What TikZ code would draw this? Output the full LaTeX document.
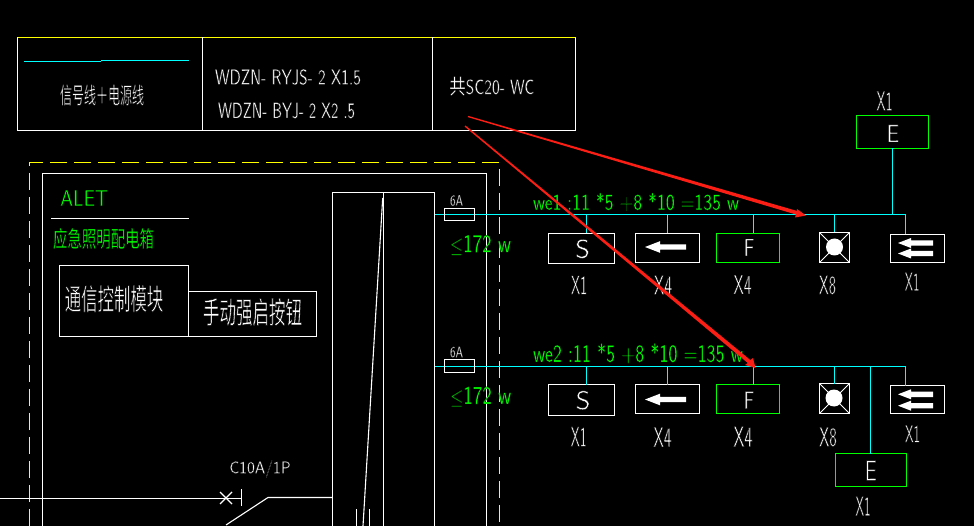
\documentclass[tikz,border=0pt]{standalone}
\usepackage{graphicx}
\usepackage{fontspec}
\usetikzlibrary{calc}
\newfontfamily\cjk{Noto Sans CJK SC}
\definecolor{cadgreen}{RGB}{0,255,0}
\definecolor{cadcyan}{RGB}{0,255,255}
\definecolor{cadyellow}{RGB}{255,255,0}
\definecolor{cadred}{RGB}{250,30,20}
\tikzset{
  wl/.style={draw=white,line width=1.1pt},
  yl/.style={draw=cadyellow,line width=1.1pt},
  cl/.style={draw=cadcyan,line width=1.1pt},
  ydash/.style={yl,dash pattern=on 17pt off 7pt},
  boxw/.style={draw=white,line width=1.1pt,inner sep=0pt,outer sep=0pt},
  boxg/.style={draw=cadgreen,line width=1.1pt,inner sep=0pt,outer sep=0pt},
  cadt/.style={inner sep=0pt,outer sep=0pt},
  redarrow/.style={fill=cadred,draw=none},
  whitefill/.style={fill=white,draw=none}
}
% thin the glyphs by stroking them in the background colour
\newcommand\thinon[1]{\special{pdf: code 2 Tr #1 w 0 0 0 RG}}
\newcommand\thinoff{\special{pdf: code 0 Tr}}
\newcommand\latw{0.6}
\newcommand\zhw{0.5}
% name, x, y, w, h, colour, text
\newcommand\cadlat[7]{\node[cadt,text=#6] (#1) at (#2,#3) {\resizebox*{#4pt}{#5pt}{\sffamily\fontsize{30}{30}\selectfont\thinon{\latw}#7\thinoff}};}
\newcommand\cadzh[7]{\node[cadt,text=#6] (#1) at (#2,#3) {\resizebox*{#4pt}{#5pt}{\cjk\fontsize{30}{30}\selectfont\thinon{\zhw}#7\thinoff}};}
% left arrow: tip x, end x, y, head half, shaft half, head len
\newcommand\leftarr[6]{\fill[whitefill] (#1,#3) -- (#1+#6,#3-#4) -- (#1+#6,#3-#5) -- (#2,#3-#5) -- (#2,#3+#5) -- (#1+#6,#3+#5) -- (#1+#6,#3+#4) -- cycle;}
\begin{document}
\begin{tikzpicture}[x=1pt,y=-1pt]
\useasboundingbox (0,0) rectangle (974,526);
\fill[black] (0,0) rectangle (974,526);

% legend table
\draw[yl] (17.5,37.5) -- (575.5,37.5);
\draw[wl] (17.5,37.5) |- (575.5,130.5) -- (575.5,37.5);
\draw[wl] (202.5,37.5) -- (202.5,130.5);
\draw[wl] (432.5,37.5) -- (432.5,130.5);
\draw[cl] (24,61.5) -- (101,61.5);
\draw[cl] (101,60.5) -- (189,60.5);
\cadzh{t1}{102}{95}{84}{21}{white}{信号线＋电源线}
\renewcommand\latw{0.3}
\cadlat{t2}{288}{77}{146}{15.7}{white}{WDZN- RYJS- 2 X1.5}
\cadlat{t3}{286.5}{110.5}{137}{15.7}{white}{WDZN- BYJ- 2 X2 .5}
\node[cadt,text=white] (t4) at (491.7,86.2) {\resizebox*{85pt}{19pt}{\fontsize{30}{30}\selectfont\thinon{0.35}{\cjk 共}\sffamily SC20- WC\thinoff}};

% panel frames
\draw[ydash] (29.5,526) -- (29.5,162.5) -- (499.5,162.5) -- (499.5,526);
\draw[wl] (42.5,526) -- (42.5,173.5) -- (486.5,173.5) -- (486.5,526);
\cadlat{alet}{84.2}{198}{48}{15.7}{cadgreen}{ALET}
\draw[wl] (51,218.5) -- (189,218.5);
\renewcommand\zhw{0.3}
\cadzh{t5}{103.5}{238.5}{101}{21}{cadgreen}{应急照明配电箱}
\renewcommand\zhw{0.5}

% modules
\node[boxw,minimum width=129pt,minimum height=71pt] (modA) at (124,301) {};
\node[boxw,minimum width=128pt,minimum height=45pt] (modB) at (252.5,314) {};
\cadzh{t6}{114}{298.7}{98.5}{27}{white}{通信控制模块}
\cadzh{t7}{252.5}{312}{99}{28}{white}{手动强启按钮}

% distribution column
\draw[wl] (332.5,526) -- (332.5,192.5) -- (434.5,192.5) -- (434.5,526);
\draw[wl] (383.5,192.5) -- (383.5,526);
\coordinate (slA) at (382.7,198);
\coordinate (slB) at (363,526);
\draw[wl] (slA) -- (slB);
\draw[wl] (356.5,509) -- (356.5,526);
\draw[wl] (369.5,509) -- (369.5,526);

% breaker
\coordinate (inL) at (0,498.5);
\coordinate (brk) at (241.5,498.5);
\draw[wl] (inL) -- (brk);
\draw[wl] (241.5,489) -- (241.5,506);
\draw[wl] (220,492) -- (232,504) (220,504) -- (232,492);
\draw[wl] (226,525) -- (268,497.5) -- (332.5,497.5);
\cadlat{c10}{260}{469}{61.5}{17}{white}{C10A/1P}

% buses
\coordinate (bus1L) at (434.5,214.5);
\coordinate (bus1R) at (905.5,214.5);
\coordinate (bus2L) at (434.5,366.5);
\coordinate (bus2R) at (905.5,366.5);
\draw[cl] (bus1L) -- (bus1R);
\draw[cl] (bus2L) -- (bus2R);
\node[boxw,minimum width=30pt,minimum height=12pt] (fu1) at (459.5,214.5) {};
\node[boxw,minimum width=30pt,minimum height=13pt] (fu2) at (459.5,366) {};
\renewcommand\latw{0.15}
\cadlat{a1}{456.5}{200.5}{13}{11}{white}{6A}
\cadlat{a2}{456.5}{352}{13}{11}{white}{6A}
\node[cadt,text=cadgreen] (p1) at (480.5,245) {\resizebox*{61pt}{20pt}{\sffamily\fontsize{30}{30}\selectfont\thinon{0.12}$\leq$172 w\thinoff}};
\node[cadt,text=cadgreen] (p2) at (480.7,396.7) {\resizebox*{61pt}{20pt}{\sffamily\fontsize{30}{30}\selectfont\thinon{0.12}$\leq$172 w\thinoff}};
\renewcommand\latw{0.15}
\cadlat{we1}{636}{202}{206}{18.4}{cadgreen}{we1 :11 *5 +8 *10 =135 w}
\cadlat{we2}{638}{353.3}{210}{20.3}{cadgreen}{we2 :11 *5 +8 *10 =135 w}
\renewcommand\latw{0.45}

% row 1 devices
\node[boxw,minimum width=66pt,minimum height=30pt] (s1) at (581.5,248.5) {};
\node[boxw,minimum width=64pt,minimum height=29pt] (l1) at (667.5,248) {};
\node[boxg,minimum width=63pt,minimum height=29pt] (f1) at (748,248) {};
\node[boxw,minimum width=30pt,minimum height=30pt] (x1) at (834.5,247.5) {};
\node[boxw,minimum width=54pt,minimum height=28pt] (d1) at (917.5,248.5) {};
\node[boxg,minimum width=72pt,minimum height=33pt] (e1) at (892.5,132) {};
\foreach \nm/\sx in {s1/586.5,l1/667.5,f1/753.5,x1/834.5,d1/905.5}{
  \draw[cl] (\sx,214.5) -- (\nm.north -| {(\sx,0)});
}
\draw[cl] (e1.south) -- (e1.south |- bus1R);
\cadlat{cs1}{582.5}{248.8}{15}{19}{white}{S}
\cadlat{cf1}{749}{247.5}{11}{17}{white}{F}
\cadlat{ce1}{893}{133.5}{12.5}{17}{white}{E}
\leftarr{645}{686}{247}{5.8}{2.7}{15}
\leftarr{898}{933}{243}{5}{2.7}{13}
\leftarr{898}{933}{253.5}{5}{2.7}{13}
\draw[white,line width=.8pt] (x1.north west) -- (x1.south east) (x1.north east) -- (x1.south west);
\fill[white] (834.5,247) circle (8.5);
\cadlat{lb1}{579}{285}{16}{18.5}{white}{X1}
\cadlat{lb2}{663}{285}{18}{19}{white}{X4}
\cadlat{lb3}{742.5}{284.5}{18}{19}{white}{X4}
\cadlat{lb4}{827.5}{285}{17}{19}{white}{X8}
\cadlat{lb5}{912}{281.7}{14.5}{18}{white}{X1}
\cadlat{lb6}{884.5}{101}{16}{19}{white}{X1}

% row 2 devices
\node[boxw,minimum width=66pt,minimum height=31pt] (s2) at (581.5,400) {};
\node[boxw,minimum width=64pt,minimum height=29pt] (l2) at (667.5,399) {};
\node[boxg,minimum width=63pt,minimum height=29pt] (f2) at (748,399) {};
\node[boxw,minimum width=30pt,minimum height=30pt] (x2) at (834.5,398.5) {};
\node[boxw,minimum width=54pt,minimum height=28pt] (d2) at (917.5,399.5) {};
\node[boxg,minimum width=71pt,minimum height=33pt] (e2) at (871,470) {};
\foreach \nm/\sx in {s2/586.5,l2/667.5,f2/753.5,x2/834.5,d2/905.5}{
  \draw[cl] (\sx,366.5) -- (\nm.north -| {(\sx,0)});
}
\draw[cl] (870.5,366.5) -- (870.5,453.5);
\cadlat{cs2}{583}{400.3}{15}{19}{white}{S}
\cadlat{cf2}{749}{400}{10.5}{17}{white}{F}
\cadlat{ce2}{870.7}{470.7}{12}{20}{white}{E}
\leftarr{645}{686}{399.5}{5.8}{2.7}{15}
\leftarr{898}{933}{394.3}{5}{2.7}{13}
\leftarr{898}{933}{405.7}{5}{2.7}{13}
\draw[white,line width=.8pt] (x2.north west) -- (x2.south east) (x2.north east) -- (x2.south west);
\fill[white] (834,398) circle (8.5);
\cadlat{lc1}{578.7}{436.7}{16}{19.5}{white}{X1}
\cadlat{lc2}{662.5}{437}{18}{19.5}{white}{X4}
\cadlat{lc3}{743}{436.5}{19}{20}{white}{X4}
\cadlat{lc4}{828}{437}{17.5}{19.5}{white}{X8}
\cadlat{lc5}{912.5}{433.7}{15}{17}{white}{X1}
\cadlat{lc6}{863}{506}{15}{19}{white}{X1}

% red arrows
\coordinate (r1s) at (468,116.5);
\coordinate (r1t) at (806,215.5);
\coordinate (r2s) at (465,126);
\coordinate (r2t) at (755.5,368);
\fill[redarrow] ($(r1s)+(.3,-.6)$) -- ($(r1t)+(-9.1,-4.6)$) -- ($(r1t)+(-9,-6.5)$) -- (r1t) -- ($(r1t)+(-11,2)$) -- ($(r1t)+(-10.1,-1.0)$) -- ($(r1s)+(-.3,.6)$) -- cycle;
\fill[redarrow] ($(r2s)+(.5,-.5)$) -- ($(r2t)+(-5.2,-8)$) -- ($(r2t)+(-2.5,-10)$) -- (r2t) -- ($(r2t)+(-10.5,-3)$) -- ($(r2t)+(-7.8,-5)$) -- ($(r2s)+(-.5,.5)$) -- cycle;
\end{tikzpicture}
\end{document}
